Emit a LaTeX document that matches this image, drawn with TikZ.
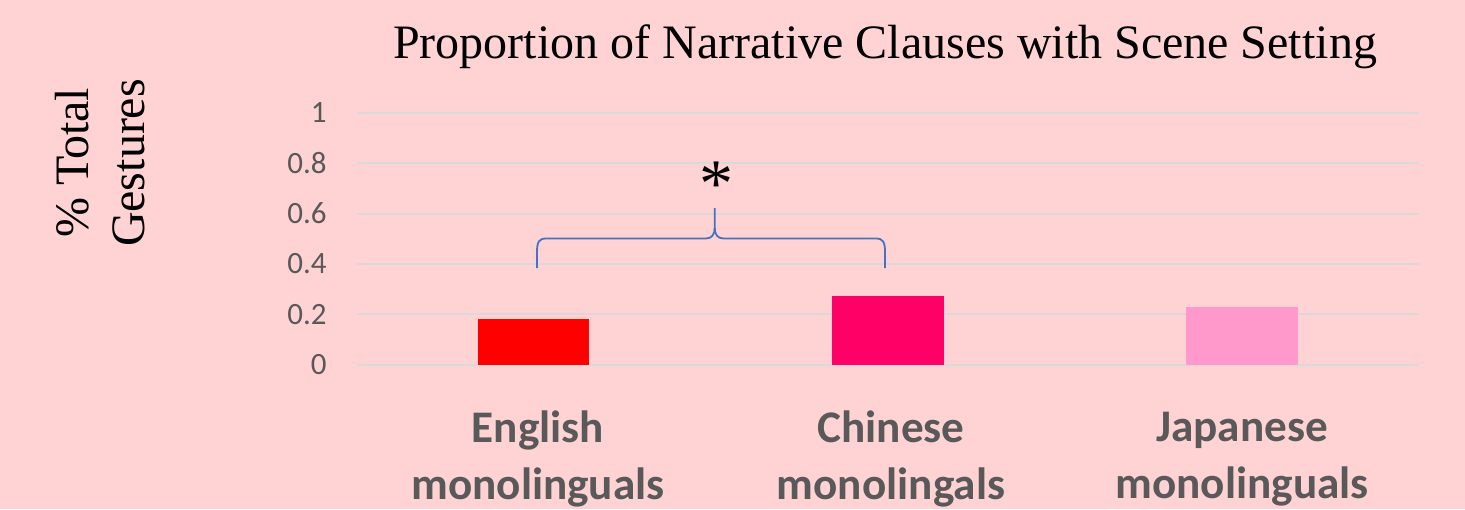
\documentclass[tikz,border=0pt]{standalone}
\usepackage{fontspec}
\setmainfont{Liberation Serif}
\newfontfamily\calibri{Carlito}
\definecolor{bgpink}{HTML}{FFD3D3}
\definecolor{gridgray}{HTML}{D9D9D9}
\definecolor{axisgray}{HTML}{595959}
\definecolor{barA}{HTML}{FF0000}
\definecolor{barB}{HTML}{FF0066}
\definecolor{barC}{HTML}{FF99CC}
\definecolor{braceblue}{HTML}{4472C4}
\tikzset{
  gridline/.style={draw=gridgray, line width=1pt},
  ticklabel/.style={anchor=east, inner sep=0pt, text=axisgray, font=\calibri\fontsize{15.5}{17}\selectfont},
  catlabel/.style={align=center, inner sep=0pt, text=axisgray, font=\calibri\bfseries\fontsize{22.6}{28.5}\selectfont},
  bigserif/.style={inner sep=0pt, font=\fontsize{24}{28}\selectfont},
  brace/.style={draw=braceblue, line width=0.9pt}
}
\begin{document}
\begin{tikzpicture}[x=0.5pt,y=-0.5pt]
\fill[bgpink] (0,0) rectangle (1465,509);
\useasboundingbox (0,0) rectangle (1465,509);
% grid
\foreach \v/\lab [count=\i] in {0/0,0.2/0.2,0.4/0.4,0.6/0.6,0.8/0.8,1/1}{
  \pgfmathsetmacro{\yy}{364.7-252*\v}
  \coordinate (gl\i) at (357,\yy);
  \coordinate (gr\i) at (1419,\yy);
  \draw[gridline] (gl\i) -- (gr\i);
  \node[ticklabel] (tick\i) at (327,\yy) {\lab};
}
% bars
\fill[barA] (478,364.7) rectangle (589,319) coordinate (bA);
\fill[barB] (832,364.7) rectangle (944,296) coordinate (bB);
\fill[barC] (1186,364.7) rectangle (1298,307) coordinate (bC);
% title
\node[bigserif] (title) at (885,47) {Proportion of Narrative Clauses with Scene Setting};
% y label
\node[bigserif, rotate=90, align=center] (ylab) at (100,163) {\% Total\\Gestures};
% categories
\node[catlabel] (c1) at (538,459) {English\hspace{6pt}\\monolinguals};
\node[catlabel] (c2) at (891,459) {Chinese\hspace{4pt}\\monolingals};
\node[catlabel] (c3) at (1242,459) {Japanese\hspace{2pt}\\monolinguals};
% brace
\coordinate (brL) at (537,268);
\coordinate (brR) at (885,268);
\coordinate (brT) at (714.7,208);
\draw[brace] (brL) -- (537,252) .. controls (537,242) and (539,238.5) .. (546,238.5)
  -- (706,238.5) .. controls (712,238.5) and (714.7,234) .. (714.7,228) -- (brT);
\draw[brace] (brR) -- (885,252) .. controls (885,242) and (883,238.5) .. (876,238.5)
  -- (723.4,238.5) .. controls (717.4,238.5) and (714.7,234) .. (714.7,228);
\node[anchor=north, inner sep=0pt, font=\fontsize{34}{34}\selectfont] (star) at (716,162) {*};
\end{tikzpicture}
\end{document}
